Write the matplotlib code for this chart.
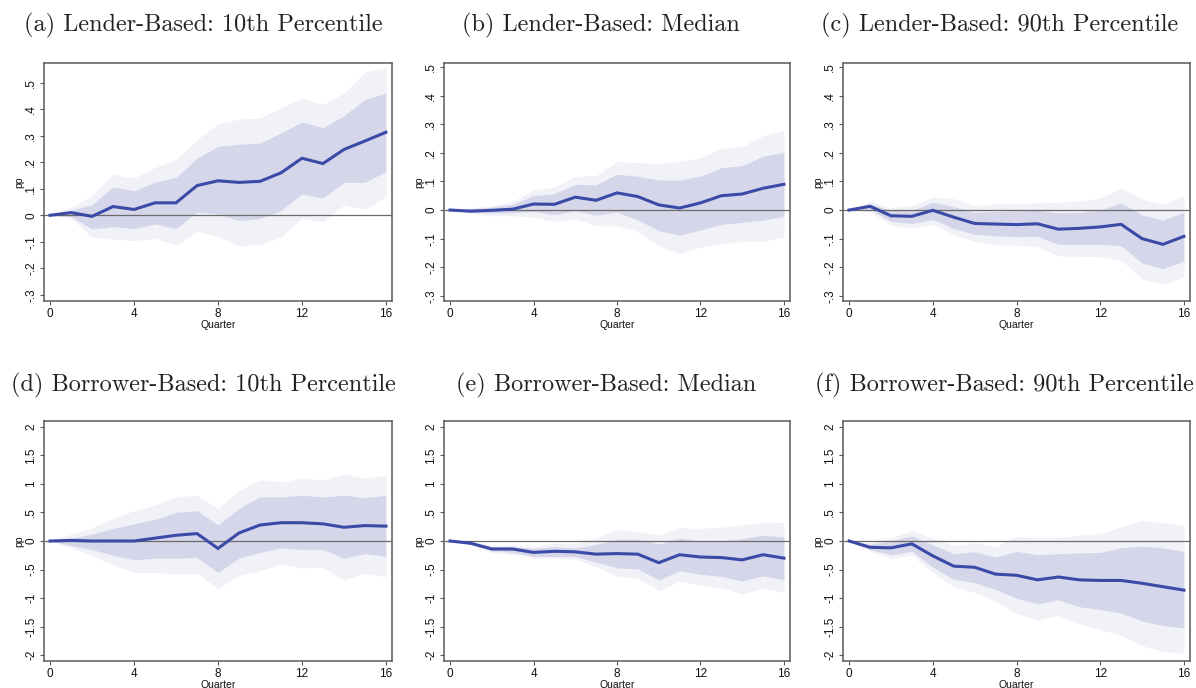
import matplotlib
matplotlib.use("Agg")
import matplotlib.pyplot as plt
import numpy as np

quarters = list(range(17))

titles = [
    "(a) Lender-Based: 10th Percentile",
    "(b) Lender-Based: Median",
    "(c) Lender-Based: 90th Percentile",
    "(d) Borrower-Based: 10th Percentile",
    "(e) Borrower-Based: Median",
    "(f) Borrower-Based: 90th Percentile",
]

# (a) lender-based, 10th percentile
a_est = [0, 0.010, -0.004, 0.033, 0.022, 0.047, 0.047, 0.112, 0.130, 0.124, 0.128, 0.160, 0.215, 0.195, 0.248, 0.280, 0.313]
a_in_hi = [0, 0.020, 0.040, 0.107, 0.093, 0.125, 0.143, 0.215, 0.260, 0.268, 0.272, 0.310, 0.352, 0.330, 0.375, 0.437, 0.460]
a_in_lo = [0, -0.005, -0.052, -0.043, -0.050, -0.033, -0.050, 0.012, 0.005, -0.020, -0.012, 0.018, 0.080, 0.065, 0.124, 0.124, 0.165]
a_out_hi = [0, 0.030, 0.075, 0.155, 0.140, 0.180, 0.210, 0.285, 0.345, 0.362, 0.367, 0.405, 0.440, 0.418, 0.460, 0.540, 0.555]
a_out_lo = [0, -0.010, -0.083, -0.090, -0.095, -0.087, -0.112, -0.060, -0.080, -0.115, -0.110, -0.082, -0.010, -0.025, 0.040, 0.022, 0.070]

# (b) lender-based, median
b_est = [0, -0.004, -0.001, 0.003, 0.021, 0.020, 0.045, 0.034, 0.060, 0.047, 0.018, 0.007, 0.025, 0.050, 0.056, 0.076, 0.090]
b_in_hi = [0, 0.004, 0.010, 0.020, 0.050, 0.057, 0.090, 0.088, 0.125, 0.118, 0.105, 0.105, 0.118, 0.148, 0.155, 0.188, 0.202]
b_in_lo = [0, -0.008, -0.010, -0.010, -0.005, -0.016, -0.003, -0.018, -0.007, -0.035, -0.072, -0.088, -0.070, -0.050, -0.043, -0.035, -0.022]
b_out_hi = [0, 0.008, 0.015, 0.030, 0.070, 0.080, 0.118, 0.120, 0.170, 0.165, 0.163, 0.170, 0.183, 0.215, 0.222, 0.260, 0.278]
b_out_lo = [0, -0.012, -0.020, -0.020, -0.025, -0.040, -0.030, -0.055, -0.055, -0.075, -0.125, -0.152, -0.130, -0.117, -0.110, -0.110, -0.095]

# (c) lender-based, 90th percentile
c_est = [0, 0.013, -0.020, -0.022, -0.001, -0.025, -0.047, -0.049, -0.051, -0.048, -0.067, -0.064, -0.059, -0.050, -0.100, -0.120, -0.092]
c_in_hi = [0, 0.023, -0.002, 0.000, 0.027, 0.012, -0.008, -0.005, -0.004, -0.001, -0.010, -0.008, 0.000, 0.025, -0.017, -0.035, -0.008]
c_in_lo = [0, 0.003, -0.040, -0.047, -0.033, -0.065, -0.085, -0.090, -0.093, -0.092, -0.120, -0.120, -0.120, -0.125, -0.185, -0.205, -0.178]
c_out_hi = [0, 0.030, 0.008, 0.015, 0.045, 0.040, 0.015, 0.022, 0.023, 0.025, 0.027, 0.032, 0.042, 0.077, 0.038, 0.020, 0.050]
c_out_lo = [0, -0.005, -0.053, -0.065, -0.050, -0.085, -0.110, -0.123, -0.123, -0.127, -0.160, -0.162, -0.163, -0.175, -0.240, -0.260, -0.235]

# (d) borrower-based, 10th percentile
d_est = [0, 0.01, 0.0, 0.0, 0.0, 0.05, 0.10, 0.13, -0.13, 0.14, 0.28, 0.32, 0.32, 0.30, 0.24, 0.27, 0.26]
d_in_hi = [0, 0.05, 0.12, 0.22, 0.30, 0.38, 0.50, 0.53, 0.28, 0.57, 0.77, 0.77, 0.80, 0.77, 0.80, 0.76, 0.80]
d_in_lo = [0, -0.08, -0.15, -0.25, -0.33, -0.30, -0.30, -0.29, -0.55, -0.30, -0.20, -0.12, -0.15, -0.15, -0.30, -0.22, -0.27]
d_out_hi = [0, 0.12, 0.23, 0.40, 0.53, 0.63, 0.77, 0.80, 0.57, 0.88, 1.07, 1.03, 1.10, 1.07, 1.17, 1.10, 1.15]
d_out_lo = [0, -0.12, -0.25, -0.42, -0.55, -0.55, -0.58, -0.57, -0.83, -0.60, -0.52, -0.40, -0.47, -0.46, -0.68, -0.56, -0.63]

# (e) borrower-based, median
e_est = [0, -0.04, -0.14, -0.14, -0.20, -0.18, -0.19, -0.23, -0.22, -0.23, -0.38, -0.24, -0.28, -0.29, -0.33, -0.24, -0.30]
e_in_hi = [0, -0.02, -0.10, -0.10, -0.13, -0.10, -0.12, -0.06, 0.03, 0.03, -0.05, 0.05, 0.00, 0.00, 0.04, 0.10, 0.07]
e_in_lo = [0, -0.06, -0.17, -0.20, -0.27, -0.27, -0.27, -0.37, -0.47, -0.49, -0.68, -0.52, -0.58, -0.62, -0.70, -0.61, -0.68]
e_out_hi = [0, 0.00, -0.08, -0.07, -0.10, -0.04, -0.04, 0.05, 0.20, 0.17, 0.10, 0.23, 0.22, 0.24, 0.28, 0.33, 0.32]
e_out_lo = [0, -0.07, -0.20, -0.23, -0.30, -0.30, -0.32, -0.45, -0.62, -0.65, -0.87, -0.70, -0.77, -0.82, -0.93, -0.83, -0.90]

# (f) borrower-based, 90th percentile
f_est = [0, -0.11, -0.12, -0.05, -0.26, -0.44, -0.46, -0.58, -0.60, -0.68, -0.63, -0.68, -0.69, -0.69, -0.74, -0.80, -0.86]
f_in_hi = [0, -0.06, 0.00, 0.09, -0.07, -0.22, -0.19, -0.28, -0.18, -0.24, -0.22, -0.21, -0.20, -0.12, -0.09, -0.12, -0.18]
f_in_lo = [0, -0.15, -0.24, -0.18, -0.46, -0.67, -0.73, -0.85, -1.00, -1.10, -1.03, -1.15, -1.20, -1.26, -1.40, -1.48, -1.52]
f_out_hi = [0, -0.03, 0.05, 0.18, 0.05, -0.08, -0.03, -0.10, 0.08, 0.05, 0.06, 0.10, 0.13, 0.25, 0.36, 0.32, 0.27]
f_out_lo = [0, -0.18, -0.30, -0.25, -0.55, -0.80, -0.90, -1.05, -1.27, -1.38, -1.30, -1.45, -1.55, -1.65, -1.83, -1.93, -1.97]

panels = [
    (a_est, a_in_lo, a_in_hi, a_out_lo, a_out_hi),
    (b_est, b_in_lo, b_in_hi, b_out_lo, b_out_hi),
    (c_est, c_in_lo, c_in_hi, c_out_lo, c_out_hi),
    (d_est, d_in_lo, d_in_hi, d_out_lo, d_out_hi),
    (e_est, e_in_lo, e_in_hi, e_out_lo, e_out_hi),
    (f_est, f_in_lo, f_in_hi, f_out_lo, f_out_hi),
]

top_ticks = [-0.3, -0.2, -0.1, 0, 0.1, 0.2, 0.3, 0.4, 0.5]
top_labels = ["-.3", "-.2", "-.1", "0", ".1", ".2", ".3", ".4", ".5"]
bottom_ticks = [-2, -1.5, -1, -0.5, 0, 0.5, 1, 1.5, 2]
bottom_labels = ["-2", "-1.5", "-1", "-.5", "0", ".5", "1", "1.5", "2"]
x_ticks = [0, 4, 8, 12, 16]

line_color = "#3a4aa6"
inner_color = "#d6d6ea"
outer_color = "#f1f1f8"
frame_color = "#5a5a5a"

plt.rcParams["font.family"] = ["Liberation Sans", "DejaVu Sans"]

fig = plt.figure(figsize=(11.96, 6.88), dpi=100)

W, H = 1196.0, 688.0
col_px = [(44, 392), (444, 790), (843, 1190)]
row_px = [(63, 301), (421, 661)]
title_x = [203, 601, 1000, 203, 606, 1004]
title_y = [25, 385]
ylims = [(-0.323, 0.574), (-0.318, 0.514), (-0.318, 0.514),
         (-2.1, 2.1), (-2.1, 2.1), (-2.1, 2.1)]

for i, (est, in_lo, in_hi, out_lo, out_hi) in enumerate(panels):
    r, c = divmod(i, 3)
    l, rr = col_px[c]
    t, b = row_px[r]
    ax = fig.add_axes([l / W, 1 - b / H, (rr - l) / W, (b - t) / H])
    ax.fill_between(quarters, out_lo, out_hi, color=outer_color, linewidth=0, zorder=1)
    ax.fill_between(quarters, in_lo, in_hi, color=inner_color, linewidth=0, zorder=2)
    ax.axhline(0, color="#6a6a6a", linewidth=0.9, zorder=3)
    ax.plot(quarters, est, color=line_color, linewidth=2.2, zorder=4,
            solid_joinstyle="miter")
    ax.set_xlim(-0.29, 16.29)
    ax.set_ylim(*ylims[i])
    ax.set_xticks(x_ticks)
    ax.set_xticklabels([str(x) for x in x_ticks])
    if r == 0:
        ax.set_yticks(top_ticks)
        ax.set_yticklabels(top_labels, rotation=90, va="center")
    else:
        ax.set_yticks(bottom_ticks)
        ax.set_yticklabels(bottom_labels, rotation=90, va="center")
    ax.tick_params(axis="both", labelsize=8.5, length=2.8, width=0.8,
                   color=frame_color, labelcolor="#111111", pad=2)
    for s in ax.spines.values():
        s.set_color(frame_color)
        s.set_linewidth(1.1)
    ax.set_xlabel("Quarter", fontsize=7.5, labelpad=0, color="#111111")
    ax.set_ylabel("pp", fontsize=7.5, labelpad=1, color="#111111")
    fig.text(title_x[i] / W, 1 - title_y[r] / H, titles[i],
             family=["cmr10", "DejaVu Serif"], fontsize=17.5,
             ha="center", va="center", color="#222222")

fig.savefig("out.png", dpi=100)
